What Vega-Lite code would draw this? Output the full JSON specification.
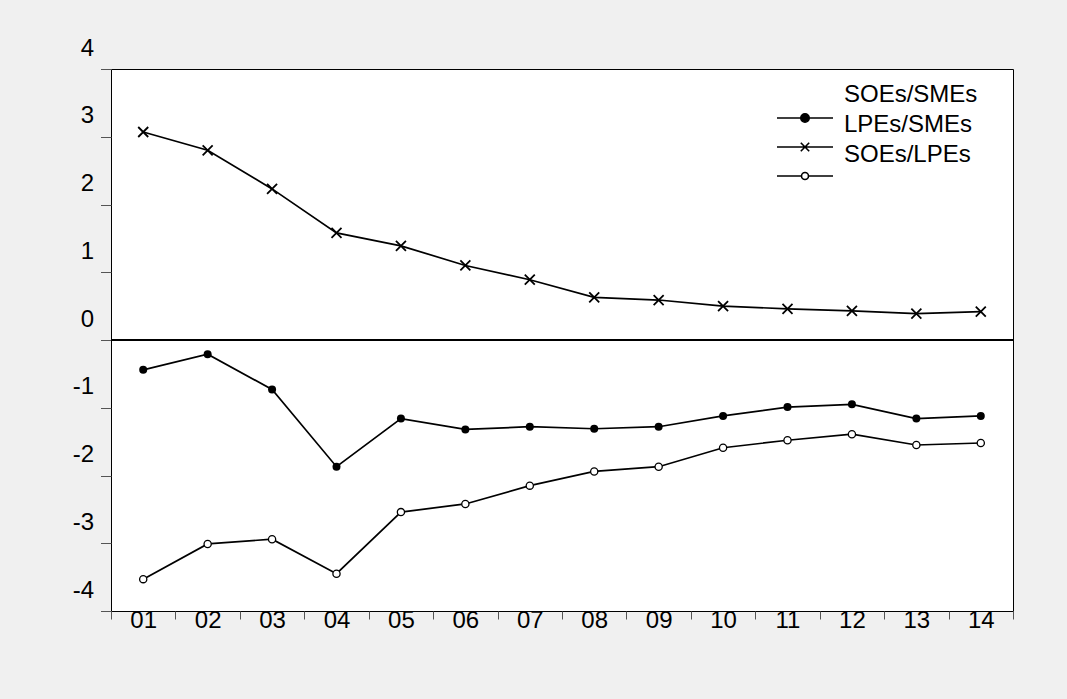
{
  "$schema": "https://vega.github.io/schema/vega-lite/v6.json",
  "width": 902,
  "height": 542,
  "autosize": {"type": "none"},
  "padding": {"left": 111, "top": 69, "right": 54, "bottom": 88},
  "background": "#f0f0f0",
  "config": {
    "view": {"fill": "white", "stroke": "black", "strokeWidth": 1},
    "font": "Liberation Sans"
  },
  "data": {
    "values": [
      {"t": 1, "series": "SOEs/SMEs", "v": -0.44},
      {"t": 2, "series": "SOEs/SMEs", "v": -0.21},
      {"t": 3, "series": "SOEs/SMEs", "v": -0.73},
      {"t": 4, "series": "SOEs/SMEs", "v": -1.87},
      {"t": 5, "series": "SOEs/SMEs", "v": -1.16},
      {"t": 6, "series": "SOEs/SMEs", "v": -1.32},
      {"t": 7, "series": "SOEs/SMEs", "v": -1.28},
      {"t": 8, "series": "SOEs/SMEs", "v": -1.31},
      {"t": 9, "series": "SOEs/SMEs", "v": -1.28},
      {"t": 10, "series": "SOEs/SMEs", "v": -1.12},
      {"t": 11, "series": "SOEs/SMEs", "v": -0.99},
      {"t": 12, "series": "SOEs/SMEs", "v": -0.95},
      {"t": 13, "series": "SOEs/SMEs", "v": -1.16},
      {"t": 14, "series": "SOEs/SMEs", "v": -1.12},
      {"t": 1, "series": "LPEs/SMEs", "v": 3.07},
      {"t": 2, "series": "LPEs/SMEs", "v": 2.80},
      {"t": 3, "series": "LPEs/SMEs", "v": 2.23},
      {"t": 4, "series": "LPEs/SMEs", "v": 1.58},
      {"t": 5, "series": "LPEs/SMEs", "v": 1.39},
      {"t": 6, "series": "LPEs/SMEs", "v": 1.10},
      {"t": 7, "series": "LPEs/SMEs", "v": 0.89},
      {"t": 8, "series": "LPEs/SMEs", "v": 0.63},
      {"t": 9, "series": "LPEs/SMEs", "v": 0.59},
      {"t": 10, "series": "LPEs/SMEs", "v": 0.50},
      {"t": 11, "series": "LPEs/SMEs", "v": 0.46},
      {"t": 12, "series": "LPEs/SMEs", "v": 0.43},
      {"t": 13, "series": "LPEs/SMEs", "v": 0.39},
      {"t": 14, "series": "LPEs/SMEs", "v": 0.42},
      {"t": 1, "series": "SOEs/LPEs", "v": -3.53},
      {"t": 2, "series": "SOEs/LPEs", "v": -3.01},
      {"t": 3, "series": "SOEs/LPEs", "v": -2.94},
      {"t": 4, "series": "SOEs/LPEs", "v": -3.45},
      {"t": 5, "series": "SOEs/LPEs", "v": -2.54},
      {"t": 6, "series": "SOEs/LPEs", "v": -2.42},
      {"t": 7, "series": "SOEs/LPEs", "v": -2.15},
      {"t": 8, "series": "SOEs/LPEs", "v": -1.94},
      {"t": 9, "series": "SOEs/LPEs", "v": -1.87},
      {"t": 10, "series": "SOEs/LPEs", "v": -1.59},
      {"t": 11, "series": "SOEs/LPEs", "v": -1.48},
      {"t": 12, "series": "SOEs/LPEs", "v": -1.39},
      {"t": 13, "series": "SOEs/LPEs", "v": -1.55},
      {"t": 14, "series": "SOEs/LPEs", "v": -1.52}
    ]
  },
  "encoding": {
    "x": {
      "field": "t",
      "type": "quantitative",
      "scale": {"domain": [0.5, 14.5], "nice": false, "zero": false},
      "axis": {
        "title": null,
        "values": [0.5, 1.5, 2.5, 3.5, 4.5, 5.5, 6.5, 7.5, 8.5, 9.5, 10.5, 11.5, 12.5, 13.5, 14.5],
        "domain": false,
        "grid": false,
        "tickSize": 8,
        "tickColor": "#555555",
        "labelExpr": "datum.value > 14 ? '' : (datum.value < 9 ? '0' : '') + (datum.value + 0.5)",
        "labelOffset": 32.2,
        "labelPadding": -11,
        "labelFontSize": 24,
        "labelFont": "Liberation Sans",
        "labelColor": "black",
        "labelAlign": "center",
        "labelBaseline": "top",
        "labelFlush": false,
        "labelOverlap": false,
        "labelBound": false
      }
    },
    "y": {
      "field": "v",
      "type": "quantitative",
      "scale": {"domain": [-4, 4], "nice": false, "zero": false},
      "axis": {
        "title": null,
        "values": [-4, -3, -2, -1, 0, 1, 2, 3, 4],
        "domain": false,
        "grid": false,
        "tickSize": 10.5,
        "tickColor": "#555555",
        "labelExpr": "'' + datum.value",
        "labelOffset": -21,
        "labelPadding": 7,
        "labelFontSize": 24,
        "labelFont": "Liberation Sans",
        "labelColor": "black",
        "labelBaseline": "middle",
        "labelFlush": false,
        "labelOverlap": false,
        "labelBound": false
      }
    }
  },
  "layer": [
    {
      "mark": {"type": "rule", "color": "black", "strokeWidth": 1},
      "encoding": {"y": {"datum": 0}, "x": {"value": 0}, "x2": {"value": 902}}
    },
    {
      "mark": {"type": "line", "color": "black", "strokeWidth": 1.7},
      "encoding": {"detail": {"field": "series"}}
    },
    {
      "transform": [{"filter": "datum.series == 'SOEs/SMEs'"}],
      "mark": {"type": "point", "shape": "circle", "filled": true, "color": "black", "size": 64, "opacity": 1}
    },
    {
      "transform": [{"filter": "datum.series == 'LPEs/SMEs'"}],
      "mark": {"type": "point", "shape": "M-1,-1L1,1M-1,1L1,-1", "filled": false, "stroke": "black", "strokeWidth": 1.8, "size": 100, "opacity": 1}
    },
    {
      "transform": [{"filter": "datum.series == 'SOEs/LPEs'"}],
      "mark": {"type": "point", "shape": "circle", "filled": true, "fill": "white", "stroke": "black", "strokeWidth": 1.3, "size": 52, "opacity": 1}
    },
    {
      "mark": {"type": "point", "opacity": 0, "stroke": "black", "strokeWidth": 1.5, "filled": true},
      "encoding": {
        "shape": {
          "field": "series",
          "type": "nominal",
          "scale": {
            "domain": ["SOEs/SMEs", "LPEs/SMEs", "SOEs/LPEs"],
            "range": [
              "M-2,0H2M-0.3,0A0.3,0.3 0 1,0 0.3,0A0.3,0.3 0 1,0 -0.3,0ZM0,-0.6L0,-0.6M0,0.6L0,0.6",
              "M-2,0H2M-0.3,-0.3L0.3,0.3M-0.3,0.3L0.3,-0.3M0,-0.6L0,-0.6M0,0.6L0,0.6",
              "M-2,0H-0.25M0.25,0H2M-0.25,0A0.25,0.25 0 1,0 0.25,0A0.25,0.25 0 1,0 -0.25,0ZM0,-0.6L0,-0.6M0,0.6L0,0.6"
            ]
          },
          "legend": {
            "title": null,
            "orient": "none",
            "legendX": 679,
            "legendY": 34,
            "padding": 0,
            "symbolSize": 784,
            "symbolOpacity": 1,
            "symbolStrokeColor": "black",
            "symbolStrokeWidth": 1.6,
            "labelExpr": "''",
            "labelFontSize": 1,
            "labelOffset": 0,
            "rowPadding": 2,
            "encode": {
              "symbols": {"update": {"opacity": {"value": 1}}}
            }
          }
        },
        "fill": {
          "field": "series",
          "type": "nominal",
          "scale": {
            "domain": ["SOEs/SMEs", "LPEs/SMEs", "SOEs/LPEs"],
            "range": ["black", "transparent", "white"]
          },
          "legend": {
            "title": null,
            "orient": "none",
            "legendX": 679,
            "legendY": 34,
            "padding": 0,
            "symbolSize": 784,
            "symbolOpacity": 1,
            "symbolStrokeColor": "black",
            "symbolStrokeWidth": 1.6,
            "labelExpr": "''",
            "labelFontSize": 1,
            "labelOffset": 0,
            "rowPadding": 2,
            "encode": {
              "symbols": {"update": {"opacity": {"value": 1}}}
            }
          }
        }
      }
    },
    {
      "mark": {"type": "point", "opacity": 0, "filled": true},
      "encoding": {
        "color": {
          "field": "series",
          "type": "nominal",
          "sort": ["SOEs/SMEs", "LPEs/SMEs", "SOEs/LPEs"],
          "scale": {"range": ["black", "black", "black"]},
          "legend": {
            "title": null,
            "orient": "none",
            "legendX": 709,
            "legendY": 14,
            "padding": 0,
            "symbolSize": 0,
            "symbolOpacity": 0,
            "symbolStrokeWidth": 0,
            "labelFont": "Liberation Sans",
            "labelFontSize": 24,
            "labelColor": "black",
            "labelOffset": 0,
            "labelLimit": 400,
            "rowPadding": 6
          }
        }
      }
    }
  ]
}
